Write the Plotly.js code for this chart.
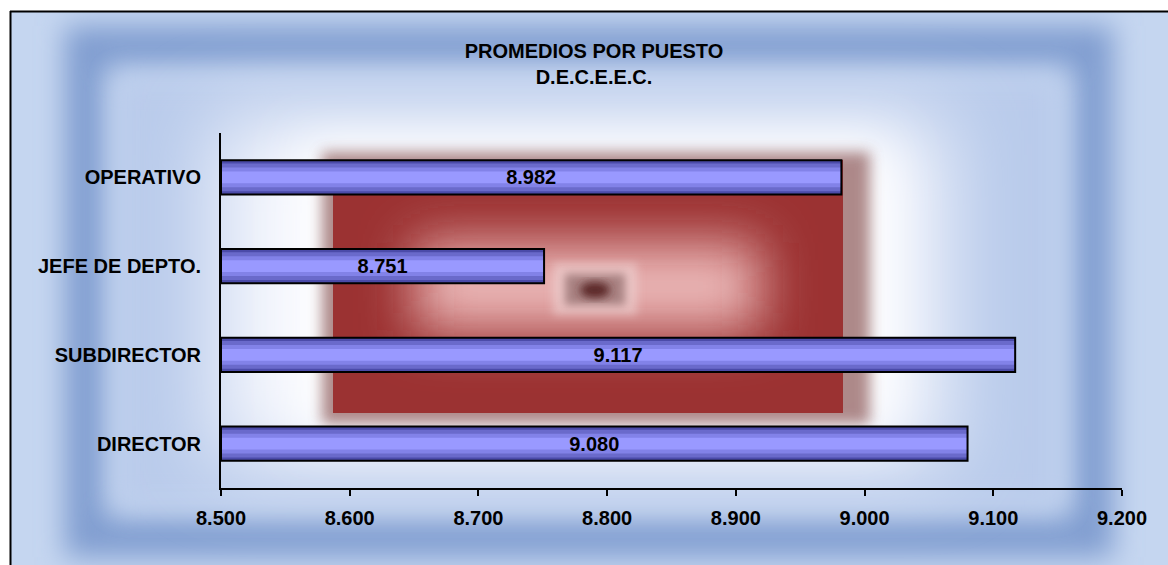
<!DOCTYPE html>
<html>
<head>
<meta charset="utf-8">
<script src="https://cdn.plot.ly/plotly-3.0.1.min.js"></script>
<style>
  html, body { margin: 0; padding: 0; background: #ffffff; }
  #wrap { position: relative; width: 1168px; height: 565px; overflow: hidden; }
  #bg { position: absolute; left: 0; top: 0; }
  #chart { position: absolute; left: 0; top: 0; width: 1168px; height: 565px; }
</style>
</head>
<body>
<div id="wrap">
<svg id="bg" width="1168" height="565" xmlns="http://www.w3.org/2000/svg">
  <defs>
    <filter id="b4" x="-30%" y="-30%" width="160%" height="160%"><feGaussianBlur stdDeviation="4"/></filter>
    <filter id="b7" x="-30%" y="-30%" width="160%" height="160%"><feGaussianBlur stdDeviation="7"/></filter>
    <filter id="b14" x="-30%" y="-30%" width="160%" height="160%"><feGaussianBlur stdDeviation="14"/></filter>
    <filter id="b26" x="-30%" y="-30%" width="160%" height="160%"><feGaussianBlur stdDeviation="26"/></filter>
    <filter id="b40" x="-30%" y="-30%" width="160%" height="160%"><feGaussianBlur stdDeviation="40"/></filter>
    <clipPath id="frameClip"><rect x="11" y="12" width="1170" height="560"/></clipPath>
    <clipPath id="redClip"><rect x="333" y="160" width="510" height="253"/></clipPath>
  </defs>
  <rect x="0" y="0" width="1168" height="565" fill="#ffffff"/>
  <g clip-path="url(#frameClip)">
    <rect x="10" y="11" width="1170" height="560" fill="#c5d6f0"/>
    <rect x="85" y="46" width="1008" height="491" fill="none" stroke="#809dd0" stroke-width="40" filter="url(#b14)"/>
    <rect x="118" y="78" width="942" height="428" fill="#b9cbeb" filter="url(#b14)"/>
    <rect x="215" y="118" width="730" height="345" fill="#f4f6fd" filter="url(#b40)"/>
    <rect x="300" y="140" width="590" height="300" fill="#ffffff" filter="url(#b26)"/>
  </g>
  <!-- red panel -->
  <rect x="322" y="152" width="548" height="272" fill="#8c5858" opacity="0.7" filter="url(#b7)"/>
  <rect x="333" y="160" width="510" height="253" fill="#ebb6b6"/>
  <g clip-path="url(#redClip)">
    <rect x="333" y="160" width="510" height="253" fill="none" stroke="#9b3232" stroke-width="165" filter="url(#b26)"/>
    <rect x="553" y="263" width="84" height="52" fill="#f0d8d8" opacity="0.55" filter="url(#b4)"/>
    <rect x="565" y="274" width="60" height="31" fill="#a98282" filter="url(#b4)"/>
    <ellipse cx="595" cy="290" rx="15" ry="8" fill="#5a2727" filter="url(#b4)"/>
  </g>
  <line x1="10" y1="11.5" x2="1168" y2="11.5" stroke="#000" stroke-width="2"/>
  <line x1="10.5" y1="11" x2="10.5" y2="565" stroke="#000" stroke-width="2"/>
</svg>
<div id="chart"></div>
</div>
<script>
// ---- data ----
const categories = ['DIRECTOR', 'SUBDIRECTOR', 'JEFE DE DEPTO.', 'OPERATIVO'];
const values = [9.080, 9.117, 8.751, 8.982];
const tickValues = [8.5, 8.6, 8.7, 8.8, 8.9, 9.0, 9.1, 9.2];
const axisStart = 8.5;
const axisEnd = 9.2;
const titleLines = ['PROMEDIOS POR PUESTO', 'D.E.C.E.E.C.'];

const FONT = 'Liberation Sans, Arial, sans-serif';
const lengths = values.map(v => v - axisStart);
const labels = values.map(v => v.toFixed(3));

// layered bars give the cylinder shading
const layers = [
  { w: 0.386, c: '#4b4ba9' },
  { w: 0.31,  c: '#6a6acb' },
  { w: 0.22,  c: '#8282e8' },
  { w: 0.13,  c: '#9999ff' }
];
const traces = layers.map(l => ({
  type: 'bar', orientation: 'h',
  y: categories, x: lengths, base: axisStart,
  width: l.w,
  marker: { color: l.c, line: { width: 0 } },
  hoverinfo: 'skip', showlegend: false
}));
traces.push({
  type: 'bar', orientation: 'h',
  y: categories, x: lengths, base: axisStart,
  width: 0.386,
  marker: { color: 'rgba(0,0,0,0)', line: { color: '#000000', width: 2 } },
  text: labels,
  textposition: 'inside',
  insidetextanchor: 'middle',
  constraintext: 'none',
  textfont: { family: FONT, size: 20, color: '#000000', weight: 'bold' },
  hoverinfo: 'skip', showlegend: false
});

const layout = {
  width: 1168, height: 565,
  margin: { l: 221, r: 46, t: 133, b: 77 },
  paper_bgcolor: 'rgba(0,0,0,0)',
  plot_bgcolor: 'rgba(0,0,0,0)',
  barmode: 'overlay',
  showlegend: false,
  title: {
    text: titleLines.join('<br>'),
    font: { family: FONT, size: 20, color: '#000000', weight: 'bold' },
    x: 594 / 1168, xref: 'container', xanchor: 'center',
    y: 1 - 58 / 565, yref: 'container', yanchor: 'top'
  },
  xaxis: {
    range: [axisStart, axisEnd],
    tickvals: tickValues,
    tickformat: '.3f',
    ticks: 'outside', ticklen: 6, tickwidth: 2, tickcolor: '#000000',
    showline: true, linecolor: '#000000', linewidth: 2,
    showgrid: false, zeroline: false,
    tickfont: { family: FONT, size: 20, color: '#000000', weight: 'bold' },
    ticklabelstandoff: 5,
    fixedrange: true
  },
  yaxis: {
    categoryorder: 'array', categoryarray: categories,
    ticks: '', showline: true, linecolor: '#000000', linewidth: 2,
    showgrid: false, zeroline: false,
    tickfont: { family: FONT, size: 20, color: '#000000', weight: 'bold' },
    ticklabelstandoff: 14,
    fixedrange: true
  }
};

Plotly.newPlot('chart', traces, layout, { displayModeBar: false, staticPlot: true });
</script>
</body>
</html>
